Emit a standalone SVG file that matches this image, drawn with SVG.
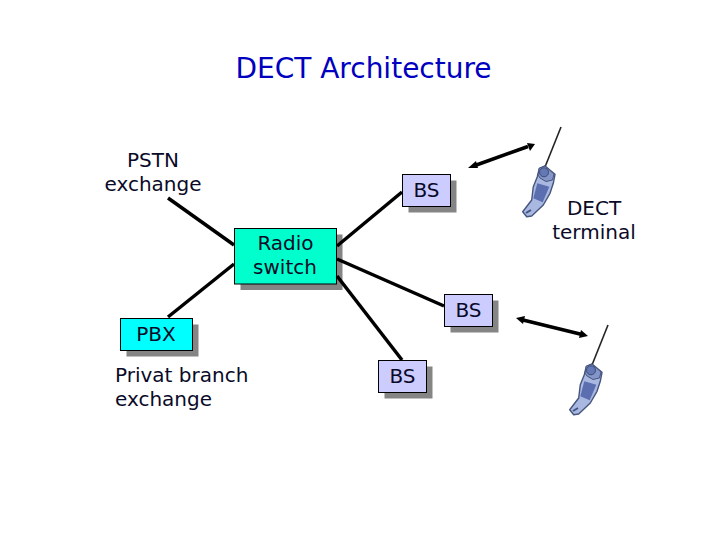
<svg xmlns="http://www.w3.org/2000/svg" xmlns:xlink="http://www.w3.org/1999/xlink" width="720" height="540" viewBox="0 0 720 540">
<style>
text{font-family:"DejaVu Sans","Liberation Sans",sans-serif;font-size:20px;fill:#0a0a28;text-anchor:middle}
.title{font-size:28px;fill:#0000c0}
.l{text-anchor:start}
.box{stroke:#000;stroke-width:1}
.sh{fill:#858585}
.bs{fill:#ccccff}
.c{stroke:#000;stroke-width:3.500;fill:none;stroke-linecap:butt}
.ar{fill:#000}
</style>
<defs>
<g id="phone">
<path d="M-1 -2L15 -42" stroke="#222" stroke-width="1.600" fill="none"/>
<path d="M-6.700 -0.700L-1 -3L9 5.300L7.300 14.300L4 24.300L-2.700 36L-14.300 47L-19.300 47.700L-23.300 42.700L-14.300 31L-12.700 17.700L-8.700 7.700Z" fill="#a9b8e0" stroke="#46557f" stroke-width="1.400" stroke-linejoin="round"/>
<path d="M-6.700 -0.700L-1 -3L8 5L6.500 11L0 12.500L-6 9L-8 6Z" fill="#8496c8" stroke="#46557f" stroke-width="1"/>
<circle cx="-2" cy="3.300" r="4.500" fill="#6478b4" stroke="#3c4a78" stroke-width="1"/>
<path d="M-8.700 14.300L3.300 17.700L-3.300 33.300L-12.700 29.300Z" fill="#5a6eb0"/>
<path d="M-20 44L-15 41" stroke="#44537f" stroke-width="2" fill="none"/>
</g>
</defs>
<text class="title" x="363.500" y="78">DECT Architecture</text>
<g id="pstn"><text x="153" y="167">PSTN</text><text x="153" y="191">exchange</text></g>
<g id="switch">
<rect class="sh" x="240.500" y="234.500" width="102" height="55.500"/>
<rect class="box" x="234.500" y="228.500" width="102" height="55.500" fill="#00ffcc"/>
<text x="285.500" y="250">Radio</text><text x="285" y="274">switch</text>
</g>
<g id="pbx">
<rect class="sh" x="126.500" y="324.500" width="72" height="32"/>
<rect class="box" x="120.500" y="318.500" width="72" height="32" fill="#00ffff"/>
<text x="156" y="341">PBX</text>
<text class="l" x="115" y="382">Privat branch</text>
<text class="l" x="115" y="406">exchange</text>
</g>
<g id="bs1">
<rect class="sh" x="408.500" y="180.500" width="48" height="32"/>
<rect class="box bs" x="402.500" y="174.500" width="48" height="32"/>
<text x="426.500" y="197">BS</text>
</g>
<g id="bs2">
<rect class="sh" x="450.500" y="300.500" width="48" height="32"/>
<rect class="box bs" x="444.500" y="294.500" width="48" height="32"/>
<text x="468.500" y="317">BS</text>
</g>
<g id="bs3">
<rect class="sh" x="384.500" y="366.500" width="48" height="32"/>
<rect class="box bs" x="378.500" y="360.500" width="48" height="32"/>
<text x="402.500" y="383">BS</text>
</g>
<g id="terminal1">
<use xlink:href="#phone" href="#phone" x="546" y="169"/>
<text x="594" y="215">DECT</text><text x="594" y="239">terminal</text>
</g>
<g id="terminal2">
<use xlink:href="#phone" href="#phone" x="593" y="367"/>
</g>
<g id="connectors">
<path class="c" d="M168 198L234 245"/>
<path class="c" d="M168 317L234 264"/>
<path class="c" d="M337 246L402 192"/>
<path class="c" d="M337 259L444 306"/>
<path class="c" d="M337 276L402 360"/>
<path class="c" d="M475 165.500L528 146.500"/>
<path class="ar" d="M468 168L476 161L478 168Z"/>
<path class="ar" d="M535 144L527 143L530 151Z"/>
<path class="c" d="M523 320L581 334.300"/>
<path class="ar" d="M516 318L525 316L523 324Z"/>
<path class="ar" d="M588 336L579 338L581 330Z"/>
</g>
</svg>
